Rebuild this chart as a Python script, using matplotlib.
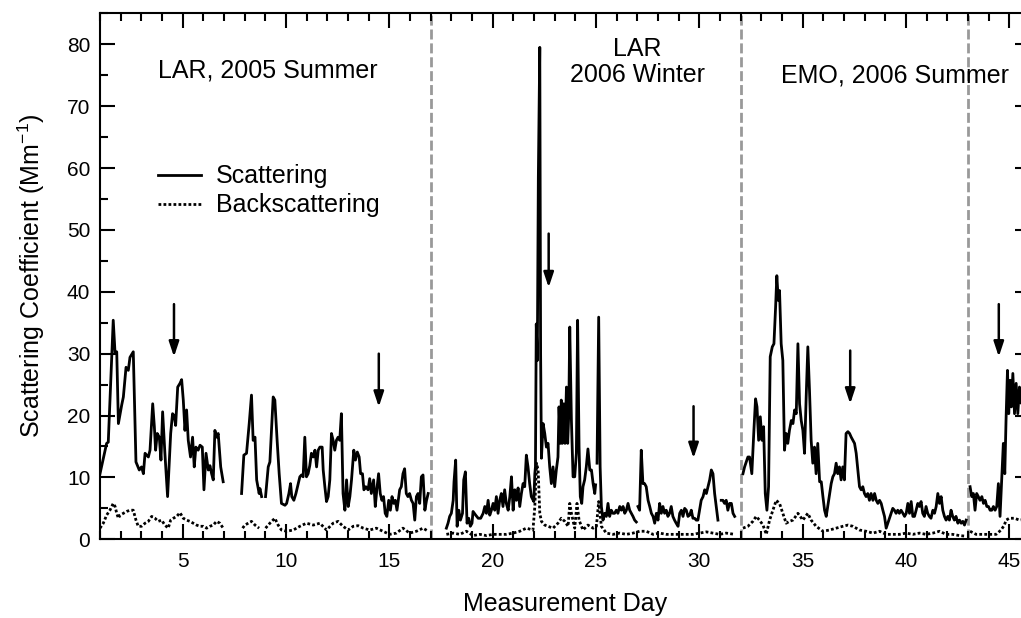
import numpy as np
import matplotlib
matplotlib.use("Agg")
import matplotlib.pyplot as plt
from matplotlib.ticker import MultipleLocator

nan = np.nan

# ---------------- data ----------------
scat_day = [
    1.00, 1.32, 1.40, 1.64, 1.73, 1.81, 1.89, 2.05, 2.13, 2.26, 2.37, 2.45, 2.61, 2.74, 2.90, 3.01,
    3.10, 3.18, 3.34, 3.42, 3.55, 3.63, 3.69, 3.77, 3.87, 3.95, 4.03, 4.14, 4.27, 4.42, 4.51, 4.59,
    4.66, 4.76, 4.87, 4.95, 5.03, 5.11, 5.19, 5.27, 5.38, 5.48, 5.56, 5.64, 5.75, 5.84, 5.95, 6.03,
    6.13, 6.24, 6.32, 6.40, 6.48, 6.56, 6.64, 6.72, 6.84, 6.96, 7.40,
    7.85, 7.96, 8.09, 8.22, 8.33, 8.41, 8.50, 8.58, 8.70, 8.74, 8.82, 8.92,
    9.01, 9.14, 9.22, 9.38, 9.46, 9.57, 9.67, 9.78, 9.95, 10.03, 10.14, 10.22, 10.28, 10.38, 10.48,
    10.59, 10.67, 10.75, 10.83, 10.91, 10.99, 11.07, 11.15, 11.23, 11.32, 11.40, 11.48, 11.56, 11.64,
    11.75, 11.80, 11.88, 11.96, 12.04, 12.12, 12.20, 12.28, 12.36, 12.44, 12.52, 12.60, 12.68, 12.76,
    12.85, 12.93, 13.01, 13.09, 13.17, 13.28, 13.36, 13.45, 13.54, 13.61, 13.70, 13.77, 13.86, 13.97,
    14.05, 14.13, 14.24, 14.32, 14.40, 14.48, 14.56, 14.64, 14.72, 14.80, 14.88, 14.97, 15.05, 15.13,
    15.21, 15.29, 15.37, 15.50, 15.58, 15.66, 15.74, 15.82, 15.90, 15.98, 16.07, 16.15, 16.23, 16.31,
    16.39, 16.47, 16.55, 16.63, 16.72, 16.80, 16.88, 17.30,
    17.76, 17.84, 17.92, 18.00, 18.09, 18.13, 18.21, 18.28, 18.36, 18.44, 18.54, 18.60, 18.68, 18.76,
    18.84, 18.92, 19.00, 19.05, 19.18, 19.30, 19.42, 19.54, 19.62, 19.70, 19.78, 19.86, 19.94, 20.02,
    20.10, 20.18, 20.26, 20.34, 20.42, 20.50, 20.58, 20.66, 20.75, 20.83, 20.91, 20.99, 21.07, 21.15,
    21.23, 21.31, 21.39, 21.47, 21.55, 21.63, 21.71, 21.79, 21.87, 21.99, 22.04, 22.07, 22.11, 22.16,
    22.21, 22.28, 22.32, 22.36, 22.44, 22.52, 22.60, 22.68, 22.76, 22.84, 22.92, 23.00, 23.08, 23.16,
    23.21, 23.28, 23.32, 23.37, 23.44, 23.50, 23.57, 23.63, 23.68, 23.73, 23.81, 23.89, 23.97, 24.05,
    24.11, 24.18, 24.24, 24.31, 24.37, 24.45, 24.53, 24.61, 24.70, 24.78, 24.86, 24.94, 24.98, 25.02,
    25.05, 25.13, 25.20, 25.26, 25.34, 25.42, 25.50, 25.58, 25.66, 25.74, 25.82, 25.90, 25.98, 26.06,
    26.15, 26.23, 26.31, 26.39, 26.47, 26.55, 26.63, 26.71, 26.79, 26.87, 26.95, 26.99,
    27.03, 27.11, 27.19, 27.27, 27.35, 27.43, 27.52, 27.60, 27.68, 27.76, 27.84, 27.92, 28.00, 28.08,
    28.16, 28.24, 28.32, 28.40, 28.48, 28.56, 28.64, 28.72, 28.80, 28.88, 28.97, 29.05, 29.13, 29.21,
    29.29, 29.37, 29.45, 29.53, 29.61, 29.69, 29.77, 29.85, 29.93, 30.01, 30.09, 30.18, 30.26, 30.34,
    30.42, 30.50, 30.58, 30.66, 30.74, 30.82, 30.90, 30.98,
    31.06, 31.14, 31.22, 31.30, 31.38, 31.46, 31.55, 31.63, 31.71, 31.90,
    32.11, 32.19, 32.27, 32.35, 32.43, 32.54, 32.64, 32.72, 32.79, 32.87, 32.95, 33.03, 33.11, 33.19,
    33.27, 33.35, 33.43, 33.53, 33.61, 33.69, 33.75, 33.82, 33.88, 33.96, 34.04, 34.12, 34.20, 34.28,
    34.36, 34.45, 34.53, 34.61, 34.69, 34.77, 34.85, 34.93, 35.01, 35.09, 35.17, 35.25, 35.33, 35.41,
    35.49, 35.57, 35.65, 35.73, 35.82, 35.90, 35.98, 36.06, 36.14, 36.22, 36.30, 36.38, 36.46, 36.54,
    36.62, 36.70, 36.78, 36.86, 36.94, 37.02, 37.10, 37.19, 37.27, 37.35, 37.43, 37.51, 37.59, 37.67,
    37.75, 37.83, 37.91, 37.99, 38.07, 38.15, 38.23, 38.31, 38.40, 38.48, 38.56, 38.64, 38.72, 38.80,
    38.88, 38.96, 39.04, 39.12, 39.20, 39.28, 39.36, 39.44, 39.52, 39.60, 39.68, 39.76, 39.85, 39.93,
    40.01, 40.09, 40.17, 40.25, 40.33, 40.41, 40.49, 40.57, 40.65, 40.73, 40.81, 40.89, 40.97, 41.05,
    41.13, 41.21, 41.30, 41.38, 41.46, 41.54, 41.62, 41.70, 41.78, 41.86, 41.94, 42.02, 42.10, 42.18,
    42.26, 42.34, 42.42, 42.51, 42.59, 42.67, 42.75, 42.83, 42.91, 43.00,
    43.10, 43.18, 43.26, 43.34, 43.42, 43.50, 43.58, 43.67, 43.75, 43.83, 43.91, 43.99, 44.07, 44.15,
    44.23, 44.31, 44.39, 44.47, 44.55, 44.63, 44.71, 44.78, 44.84, 44.91, 44.97, 45.04, 45.10, 45.17,
    45.25, 45.33, 45.41, 45.49, 45.57, 45.65,
]
scat_val = [
    10.6, 15.5, 15.7, 35.4, 30.0, 30.3, 18.7, 21.7, 23.0, 27.8, 27.3, 29.4, 30.3, 12.5, 11.2, 11.7,
    10.6, 13.9, 13.3, 14.4, 21.9, 18.2, 14.4, 17.1, 16.5, 12.8, 20.6, 13.9, 6.9, 17.1, 20.3, 20.0,
    18.4, 24.6, 25.2, 25.8, 22.5, 17.6, 20.9, 16.0, 13.3, 16.5, 11.7, 14.9, 14.4, 15.2, 14.9, 8.0,
    13.9, 11.2, 11.9, 10.6, 9.6, 17.6, 16.5, 17.1, 11.7, 9.3, nan,
    7.4, 13.6, 13.9, 18.7, 23.3, 16.0, 16.5, 9.6, 7.4, 8.2, 6.9, nan,
    6.9, 11.7, 12.5, 23.0, 22.5, 16.0, 10.6, 5.8, 5.5, 5.8, 7.4, 9.0, 6.9, 6.3, 7.4,
    9.0, 10.1, 10.4, 10.1, 16.5, 10.1, 10.6, 11.9, 13.9, 13.3, 14.4, 11.7, 14.4, 14.9,
    14.9, 11.2, 8.5, 6.1, 6.9, 9.6, 17.1, 16.0, 14.4, 16.0, 16.5, 16.0, 20.3, 7.4,
    4.7, 9.6, 5.3, 6.9, 9.6, 14.4, 12.8, 14.1, 13.3, 10.6, 10.6, 8.0, 8.5, 8.0,
    9.8, 7.4, 9.6, 5.3, 8.2, 10.6, 7.4, 6.3, 6.9, 4.2, 3.7, 6.3, 4.7, 6.9,
    5.8, 6.3, 4.7, 8.0, 8.5, 10.6, 11.4, 7.4, 6.9, 7.4, 6.3, 5.8, 3.1, 6.9,
    7.4, 5.8, 10.1, 10.4, 4.7, 6.3, 7.4, nan,
    1.8, 2.6, 3.7, 4.2, 6.3, 9.3, 12.8, 2.1, 4.7, 3.1, 4.2, 9.6, 10.9, 2.6,
    3.4, 2.1, 2.6, 4.5, 3.9, 3.4, 3.4, 4.2, 5.3, 4.2, 6.3, 3.9, 4.7, 5.8,
    4.7, 6.9, 4.2, 6.3, 7.4, 5.3, 8.0, 5.8, 4.7, 6.9, 10.1, 4.7, 8.0, 6.3,
    8.3, 5.3, 7.4, 9.0, 8.5, 13.6, 11.7, 9.0, 6.9, 6.1, 10.6, 11.7, 34.8, 28.9,
    58.5, 79.5, 30.0, 13.1, 18.7, 17.1, 14.9, 15.5, 11.7, 9.0, 11.7, 8.5, 11.2, 13.3,
    21.4, 15.5, 22.5, 15.5, 21.9, 15.5, 24.6, 15.5, 20.0, 34.3, 19.2, 10.1, 10.1, 13.9,
    35.4, 14.9, 6.9, 5.8, 8.5, 9.6, 11.7, 14.6, 11.2, 11.2, 9.0, 7.4, 8.8, nan,
    12.3, 35.9, 11.7, 5.3, 3.1, 4.2, 3.7, 5.8, 3.7, 4.7, 4.2, 4.2, 4.7, 4.2,
    5.3, 4.7, 5.3, 4.2, 4.7, 5.8, 4.7, 4.2, 3.7, 3.1, 2.8, nan,
    5.3, 4.7, 14.4, 9.0, 9.0, 8.5, 6.3, 5.3, 4.2, 3.7, 2.6, 4.2, 3.1, 5.8,
    4.2, 5.3, 4.2, 4.7, 3.7, 4.2, 5.3, 3.7, 3.1, 2.6, 2.1, 4.2, 4.7, 3.7,
    5.0, 4.7, 3.7, 3.9, 4.7, 3.4, 3.4, 3.1, 3.1, 4.7, 6.3, 6.9, 8.0, 7.4,
    8.5, 9.6, 11.2, 10.6, 7.4, 5.3, 3.1, nan,
    6.3, 6.3, 5.8, 6.3, 4.7, 5.8, 5.8, 4.2, 3.7, nan,
    10.6, 11.7, 12.5, 13.3, 13.3, 10.6, 17.6, 22.7, 21.4, 16.0, 19.8, 16.0, 18.2, 7.4,
    4.7, 8.5, 29.5, 31.1, 31.6, 37.5, 42.6, 38.6, 40.2, 31.6, 28.9, 14.4, 17.1, 15.5,
    17.6, 19.2, 18.7, 20.9, 20.3, 31.6, 21.9, 19.2, 17.6, 13.9, 23.0, 31.1, 24.1, 16.0,
    12.3, 14.9, 10.6, 15.5, 9.3, 9.3, 6.9, 4.7, 3.7, 5.5, 7.4, 9.0, 10.1, 10.6,
    12.3, 10.6, 11.7, 9.6, 11.7, 9.6, 17.1, 17.4, 17.1, 16.5, 16.0, 15.5, 13.9, 11.2,
    8.5, 8.0, 8.5, 7.4, 6.9, 7.4, 6.3, 7.4, 6.3, 7.4, 6.3, 5.8, 6.3, 5.8,
    4.7, 3.7, 1.8, 2.6, 3.4, 4.2, 5.0, 4.7, 4.2, 4.7, 4.2, 4.7, 4.2, 3.7,
    4.2, 5.8, 4.2, 6.1, 3.7, 3.7, 4.7, 5.8, 5.3, 6.1, 4.2, 3.7, 5.3, 4.2,
    3.7, 3.4, 4.7, 4.2, 5.3, 7.4, 5.8, 6.9, 4.7, 3.7, 3.1, 3.7, 3.1, 4.7,
    3.7, 3.1, 3.7, 2.6, 3.1, 2.6, 2.9, 2.3, 3.1, nan,
    8.5, 6.9, 7.4, 4.7, 7.4, 6.9, 6.3, 6.9, 5.8, 6.3, 5.3, 5.3, 4.7, 4.7,
    5.3, 4.7, 5.3, 9.0, 3.7, 9.6, 15.5, 10.6, 19.2, 27.3, 20.3, 25.7, 21.4, 26.8,
    20.3, 25.2, 20.3, 24.6, 22.0, 24.0,
]

back_day = [
    1.00, 1.16, 1.32, 1.48, 1.64, 1.73, 1.81, 1.89, 1.97, 2.13, 2.29, 2.45, 2.61, 2.74, 2.85, 3.01,
    3.18, 3.34, 3.50, 3.66, 3.82, 3.98, 4.14, 4.30, 4.42, 4.55, 4.71, 4.87, 5.03, 5.19, 5.35, 5.51,
    5.67, 5.84, 6.00, 6.16, 6.32, 6.48, 6.64, 6.80, 6.96, 7.40,
    7.90, 8.01, 8.17, 8.33, 8.50, 8.70, 8.85,
    9.01, 9.22, 9.46, 9.62, 9.78, 10.03, 10.35, 10.67, 10.99, 11.32, 11.64, 11.96, 12.28, 12.52,
    12.76, 13.01, 13.25, 13.49, 13.74, 14.05, 14.37, 14.69, 15.01, 15.34, 15.66, 15.98, 16.31, 16.63,
    16.88, 17.30,
    17.76, 18.09, 18.41, 18.73, 19.05, 19.38, 19.70, 20.02, 20.34, 20.66, 20.99, 21.31, 21.63, 21.95,
    22.04, 22.12, 22.20, 22.28, 22.36, 22.52, 22.68, 22.92, 23.16, 23.32, 23.49, 23.65, 23.73, 23.81,
    23.97, 24.08, 24.18, 24.37, 24.61, 24.86, 25.02, 25.13, 25.26, 25.50, 25.82, 26.15, 26.47, 26.79,
    27.11, 27.43, 27.76, 28.08, 28.40, 28.72, 29.05, 29.37, 29.69, 30.01, 30.34, 30.66, 30.98, 31.30,
    31.71, 31.90,
    32.11, 32.35, 32.59, 32.75, 32.91, 33.08, 33.24, 33.40, 33.56, 33.72, 33.88, 34.04, 34.20, 34.36,
    34.53, 34.77, 35.01, 35.25, 35.41, 35.65, 35.98, 36.30, 36.62, 36.94, 37.19, 37.43, 37.75, 38.07,
    38.40, 38.72, 39.04, 39.36, 39.68, 40.01, 40.33, 40.65, 40.97, 41.30, 41.62, 41.94, 42.26, 42.59,
    42.91, 43.00,
    43.10, 43.39, 43.71, 44.04, 44.36, 44.60, 44.76, 44.84, 45.00, 45.25, 45.49, 45.70,
]
back_val = [
    1.8, 2.6, 3.9, 4.7, 5.8, 5.3, 4.2, 3.4, 3.9, 4.2, 4.5, 4.7, 4.7, 3.1, 2.1, 2.1,
    2.6, 2.9, 3.7, 3.4, 2.9, 3.1, 2.3, 1.8, 3.1, 3.4, 3.7, 4.3, 3.4, 3.1, 2.9, 2.6,
    2.3, 2.1, 2.1, 1.8, 2.1, 2.3, 2.9, 2.6, 1.8, nan,
    1.8, 2.3, 2.6, 2.9, 2.3, 1.8, nan,
    1.8, 2.6, 3.4, 2.3, 1.5, 1.3, 1.5, 2.1, 2.6, 2.3, 2.6, 1.5, 2.6, 2.9,
    2.1, 1.5, 2.1, 2.2, 1.8, 1.5, 1.8, 1.3, 0.8, 1.0, 1.8, 1.0, 1.3, 1.8,
    1.3, nan,
    0.8, 1.0, 0.8, 1.3, 0.6, 0.8, 0.6, 0.8, 0.8, 0.8, 1.0, 1.3, 1.8, 1.5,
    5.3, 12.3, 11.2, 4.2, 2.9, 2.3, 2.1, 1.8, 2.6, 3.4, 2.9, 2.1, 5.8, 4.2,
    1.8, 5.8, 3.1, 1.5, 2.3, 1.8, 2.1, 6.1, 2.1, 1.0, 0.8, 1.0, 0.8, 1.0,
    1.3, 1.3, 0.8, 1.0, 0.8, 0.8, 0.8, 0.8, 0.8, 1.0, 1.2, 1.0, 0.8, 1.0,
    0.8, nan,
    1.8, 2.1, 2.9, 3.7, 3.1, 2.3, 0.8, 3.1, 4.7, 6.3, 5.8, 4.2, 2.6, 2.9,
    3.1, 4.2, 3.1, 4.2, 3.1, 2.1, 1.3, 1.5, 1.8, 2.1, 2.3, 2.1, 1.5, 1.3,
    1.0, 1.3, 0.8, 0.8, 0.8, 1.0, 0.8, 1.0, 0.8, 1.0, 1.3, 0.8, 0.8, 0.6,
    0.5, nan,
    1.3, 0.8, 0.8, 0.8, 0.8, 1.5, 2.3, 3.1, 3.4, 3.4, 3.1, 3.2,
]

period_bounds = [17, 32, 43]
period_labels = ["LAR, 2005 Summer", "LAR\n2006 Winter", "EMO, 2006 Summer"]
period_label_x = [9.1, 27.0, 39.45]
period_label_y = [75.7, 77.2, 74.9]

arrow_day = [4.58, 14.49, 22.71, 29.72, 37.30, 44.49]
arrow_top = [38.0, 30.0, 49.4, 21.5, 30.5, 38.0]
arrow_tip = [29.5, 21.4, 40.7, 13.1, 21.9, 29.5]

# ---------------- plot ----------------
plt.rcParams['font.family'] = ['Liberation Sans', 'DejaVu Sans']
plt.rcParams['mathtext.fontset'] = 'custom'
plt.rcParams['mathtext.rm'] = 'Liberation Sans'
plt.rcParams['mathtext.it'] = 'Liberation Sans:italic'
fig = plt.figure(figsize=(10.21, 6.18), dpi=100)
W, H = 1021, 618
ax = fig.add_axes([100 / W, (H - 539.3) / H, 930 / W, (539.3 - 13.3) / H])

ax.plot(scat_day, scat_val, color='black', lw=2.0, label='Scattering')
ax.plot(back_day, back_val, color='black', lw=2.0, ls=(0, (1, 0.8)), label='Backscattering')

for b in period_bounds:
    ax.axvline(b, color='#999999', lw=2.0, dashes=(3.6, 1.4), zorder=0)

for lbl, lx, ly in zip(period_labels, period_label_x, period_label_y):
    ax.text(lx, ly, lbl, ha='center', va='center', fontsize=18, linespacing=1.1)

for d, t0, t1 in zip(arrow_day, arrow_top, arrow_tip):
    ax.annotate('', xy=(d, t1), xytext=(d, t0),
                arrowprops=dict(arrowstyle='-|>,head_length=0.9,head_width=0.3',
                                color='black', lw=1.8, shrinkA=0, shrinkB=0))

ax.set_xlim(1, 46)
ax.set_ylim(0, 85)
ax.xaxis.set_major_locator(MultipleLocator(5))
ax.xaxis.set_minor_locator(MultipleLocator(1))
ax.yaxis.set_major_locator(MultipleLocator(10))
ax.yaxis.set_minor_locator(MultipleLocator(5))
ax.tick_params(which='both', direction='in', top=True, right=True, width=1.5)
ax.tick_params(which='major', length=10.5, labelsize=15)
ax.tick_params(axis='x', which='major', pad=9)
ax.tick_params(axis='y', which='major', pad=7)
ax.tick_params(which='minor', length=5.5)
for s in ax.spines.values():
    s.set_linewidth(1.5)

ax.set_xlabel('Measurement Day', fontsize=18, labelpad=15)
ax.set_ylabel('Scattering Coefficient (Mm$^{-1}$)', fontsize=18, labelpad=14)

leg = ax.legend(loc='upper left', bbox_to_anchor=(0.0624, 0.713), frameon=False, fontsize=18,
                handlelength=1.7, handletextpad=0.6, labelspacing=0.2, borderaxespad=0,
                borderpad=0)

fig.savefig('out.png', dpi=100)
